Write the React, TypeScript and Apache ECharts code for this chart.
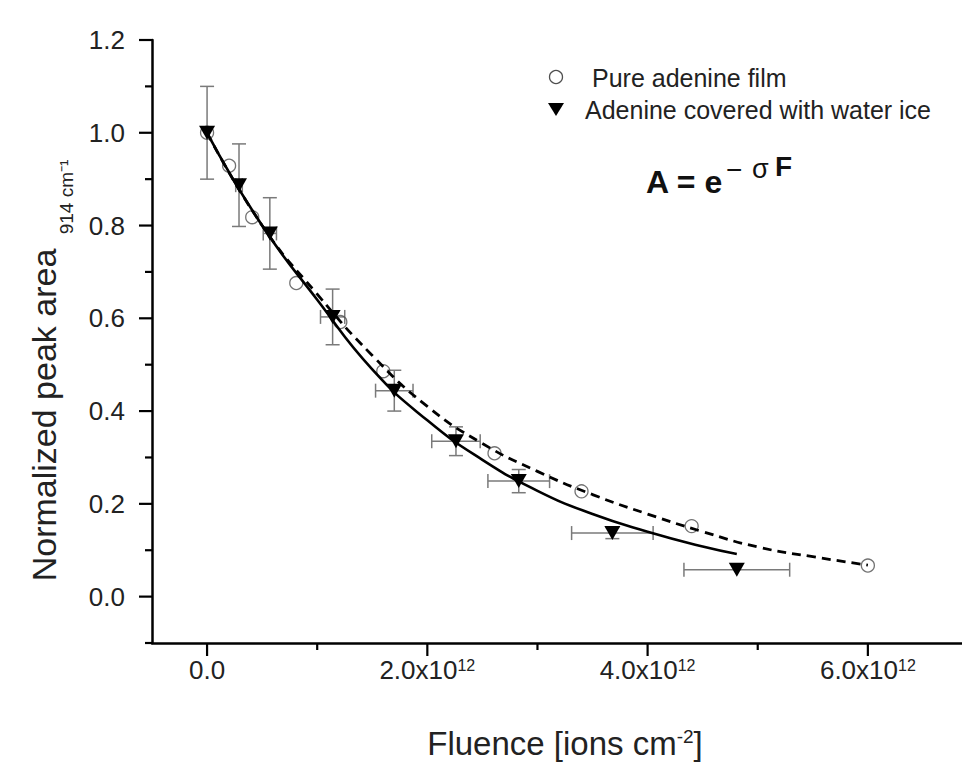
import React, { useEffect, useRef } from "react";
import * as echarts from "echarts";

// Fluence in units of 1e12 ions cm^-2
const fluenceIce = [0, 0.29, 0.57, 1.14, 1.7, 2.26, 2.83, 3.68, 4.81];
const areaIce = [1.0, 0.887, 0.783, 0.603, 0.444, 0.335, 0.249, 0.137, 0.058];
const errAreaIce = [0.1, 0.089, 0.077, 0.06, 0.044, 0.031, 0.025, 0.012, 0];
const errFluenceIce = [0, 0.03, 0.06, 0.11, 0.17, 0.22, 0.28, 0.37, 0.48];

const fluencePure = [0, 0.2, 0.41, 0.81, 1.21, 1.6, 2.61, 3.4, 4.4, 6.0];
const areaPure = [1.0, 0.929, 0.818, 0.676, 0.592, 0.486, 0.309, 0.227, 0.152, 0.067];

const fitIceF = [0, 0.5, 1, 1.5, 2, 2.5, 3, 3.5, 4, 4.5, 4.81];
const fitIceA = [1.0, 0.8, 0.64, 0.49, 0.38, 0.295, 0.228, 0.178, 0.14, 0.108, 0.092];
const fitPureF = [0, 0.5, 1, 1.5, 2, 2.5, 3, 3.5, 4, 4.5, 5, 5.5, 6];
const fitPureA = [1.0, 0.8, 0.652, 0.52, 0.41, 0.33, 0.27, 0.22, 0.178, 0.14, 0.107, 0.086, 0.068];

const xMajorTicks = [0, 2, 4, 6];
const xMinorTicks = [1, 3, 5];
const yMajorTicks = [0, 0.2, 0.4, 0.6, 0.8, 1.0, 1.2];
const yMinorTicks = [-0.1, 0.1, 0.3, 0.5, 0.7, 0.9, 1.1];

const X_MIN = -0.5;
const X_MAX = 7;
const Y_MIN = -0.1;
const Y_MAX = 1.2;

const seriesPure = "Pure adenine film";
const seriesIce = "Adenine covered with water ice";

const FONT = "'Liberation Sans', Arial, Helvetica, sans-serif";

export default function App() {
  const ref = useRef<HTMLDivElement>(null);

  useEffect(() => {
    if (!ref.current) return;
    const chart = echarts.init(ref.current, undefined, { renderer: "svg" });

    const tickRows: number[][] = [
      ...xMajorTicks.map((v) => [v, Y_MIN, 0]),
      ...xMinorTicks.map((v) => [v, Y_MIN, 1]),
      ...yMajorTicks.map((v) => [X_MIN, v, 2]),
      ...yMinorTicks.map((v) => [X_MIN, v, 3]),
    ];

    const errRows = fluenceIce.map((f, i) => [f, areaIce[i], errFluenceIce[i], errAreaIce[i]]);

    const option: any = {
      animation: false,
      backgroundColor: "#ffffff",
      textStyle: { fontFamily: FONT },
      grid: {
        left: 152,
        top: 40,
        right: -16,
        bottom: 120,
        containLabel: false,
        outerBoundsMode: "none",
      },
      xAxis: {
        type: "value",
        min: X_MIN,
        max: X_MAX,
        interval: 0.5,
        splitLine: { show: false },
        axisTick: { show: false },
        axisLine: { onZero: false, lineStyle: { color: "#000", width: 2.5 } },
        axisLabel: {
          margin: 14,
          fontSize: 26,
          color: "#222",
          fontFamily: FONT,
          hideOverlap: false,
          formatter: (v: number) => {
            const r = Math.round(v * 2);
            if (r < 0 || r % 4 !== 0) return "";
            const val = r / 2;
            if (val === 0) return "0.0";
            return `${val.toFixed(1)}x10{sup|12}`;
          },
          rich: {
            sup: { fontSize: 16, verticalAlign: "top", color: "#222", fontFamily: FONT },
          },
        },
        name: "Fluence [ions cm{sup|-2}]",
        nameLocation: "middle",
        nameGap: 84,
        nameTextStyle: {
          fontSize: 33,
          color: "#222",
          fontFamily: FONT,
          rich: {
            sup: { fontSize: 19, verticalAlign: "top", color: "#222", fontFamily: FONT },
          },
        },
      },
      yAxis: {
        type: "value",
        min: Y_MIN,
        max: Y_MAX,
        interval: 0.1,
        splitLine: { show: false },
        axisTick: { show: false },
        axisLine: { onZero: false, lineStyle: { color: "#000", width: 2.5 } },
        axisLabel: {
          margin: 27,
          fontSize: 26,
          color: "#222",
          fontFamily: FONT,
          formatter: (v: number) => {
            const r = Math.round(v * 10);
            if (r < 0 || r % 2 !== 0) return "";
            return (r / 10).toFixed(1);
          },
        },
      },
      graphic: [
        {
          type: "text",
          x: 44,
          y: 415,
          rotation: Math.PI / 2,
          style: {
            text: "Normalized peak area",
            fontSize: 34,
            fill: "#222",
            fontFamily: FONT,
            align: "center",
            verticalAlign: "middle",
          },
        },
        {
          type: "text",
          x: 66,
          y: 197,
          rotation: Math.PI / 2,
          style: {
            text: "914 cm\u207B\u00B9",
            fontSize: 19,
            fill: "#222",
            fontFamily: FONT,
            align: "center",
            verticalAlign: "middle",
          },
        },
        // legend
        {
          type: "circle",
          shape: { cx: 556, cy: 77, r: 6.5 },
          style: { fill: "none", stroke: "#505050", lineWidth: 1.3 },
        },
        {
          type: "text",
          x: 592,
          y: 78,
          style: { text: seriesPure, fontSize: 25, fill: "#222", fontFamily: FONT, verticalAlign: "middle" },
        },
        {
          type: "polygon",
          shape: { points: [[548, 103], [564, 103], [556, 116]] },
          style: { fill: "#000" },
        },
        {
          type: "text",
          x: 585,
          y: 110,
          style: { text: seriesIce, fontSize: 25, fill: "#222", fontFamily: FONT, verticalAlign: "middle" },
        },
        // formula
        {
          type: "text",
          x: 646,
          y: 182,
          style: { text: "A = e", fontSize: 32, fontWeight: "bold", fill: "#111", fontFamily: FONT, verticalAlign: "middle" },
        },
        {
          type: "text",
          x: 726,
          y: 169,
          style: { text: "\u2212", fontSize: 28, fill: "#111", fontFamily: FONT, verticalAlign: "middle" },
        },
        {
          type: "text",
          x: 752,
          y: 169,
          style: { text: "\u03C3", fontSize: 27, fill: "#111", fontFamily: FONT, verticalAlign: "middle" },
        },
        {
          type: "text",
          x: 775,
          y: 166,
          style: { text: "F", fontSize: 28, fontWeight: "bold", fill: "#111", fontFamily: FONT, verticalAlign: "middle" },
        },
      ],
      series: [
        {
          name: "ticks",
          type: "custom",
          silent: true,
          clip: false,
          encode: { x: 0, y: 1 },
          data: tickRows,
          renderItem: (params: any, api: any) => {
            const p = api.coord([api.value(0), api.value(1)]);
            const kind = api.value(2);
            let x2 = p[0];
            let y2 = p[1];
            if (kind === 0) y2 += 13;
            else if (kind === 1) y2 += 7;
            else if (kind === 2) x2 -= 13;
            else x2 -= 7;
            return {
              type: "line",
              shape: { x1: p[0], y1: p[1], x2, y2 },
              style: { stroke: "#000", lineWidth: 2.2 },
            };
          },
          z: 1,
        },
        {
          name: "errors",
          type: "custom",
          silent: true,
          clip: false,
          encode: { x: 0, y: 1 },
          data: errRows,
          renderItem: (params: any, api: any) => {
            const x = api.value(0);
            const y = api.value(1);
            const xe = api.value(2);
            const ye = api.value(3);
            const style = { stroke: "#7a7a7a", lineWidth: 1.5 };
            const cap = 7;
            const children: any[] = [];
            if (ye > 0) {
              const a = api.coord([x, y + ye]);
              const b = api.coord([x, y - ye]);
              children.push({ type: "line", shape: { x1: a[0], y1: a[1], x2: b[0], y2: b[1] }, style });
              children.push({ type: "line", shape: { x1: a[0] - cap, y1: a[1], x2: a[0] + cap, y2: a[1] }, style });
              children.push({ type: "line", shape: { x1: b[0] - cap, y1: b[1], x2: b[0] + cap, y2: b[1] }, style });
            }
            if (xe > 0) {
              const a = api.coord([x - xe, y]);
              const b = api.coord([x + xe, y]);
              children.push({ type: "line", shape: { x1: a[0], y1: a[1], x2: b[0], y2: b[1] }, style });
              children.push({ type: "line", shape: { x1: a[0], y1: a[1] - cap, x2: a[0], y2: a[1] + cap }, style });
              children.push({ type: "line", shape: { x1: b[0], y1: b[1] - cap, x2: b[0], y2: b[1] + cap }, style });
            }
            return { type: "group", children };
          },
          z: 2,
        },
        {
          name: seriesPure,
          type: "scatter",
          data: fluencePure.map((f, i) => [f, areaPure[i]]),
          symbol: "circle",
          symbolSize: 13,
          itemStyle: { color: "rgba(255,255,255,0)", borderColor: "#505050", borderWidth: 1.3 },
          z: 3,
        },
        {
          name: seriesIce,
          type: "scatter",
          data: fluenceIce.map((f, i) => [f, areaIce[i]]),
          symbol: "triangle",
          symbolRotate: 180,
          symbolSize: [16, 14],
          itemStyle: { color: "#000", opacity: 1 },
          z: 4,
        },
        {
          name: "fit pure",
          type: "line",
          data: fitPureF.map((f, i) => [f, fitPureA[i]]),
          smooth: true,
          showSymbol: false,
          silent: true,
          lineStyle: { color: "#000", width: 2.8, type: [9, 6] },
          z: 5,
        },
        {
          name: "fit ice",
          type: "line",
          data: fitIceF.map((f, i) => [f, fitIceA[i]]),
          smooth: true,
          showSymbol: false,
          silent: true,
          lineStyle: { color: "#000", width: 2.6 },
          z: 5,
        },
      ],
    };

    chart.setOption(option);
    return () => {
      chart.dispose();
    };
  }, []);

  return (
    <div
      ref={ref}
      style={{ position: "fixed", left: 0, top: 0, width: 962, height: 763, background: "#fff" }}
    />
  );
}
